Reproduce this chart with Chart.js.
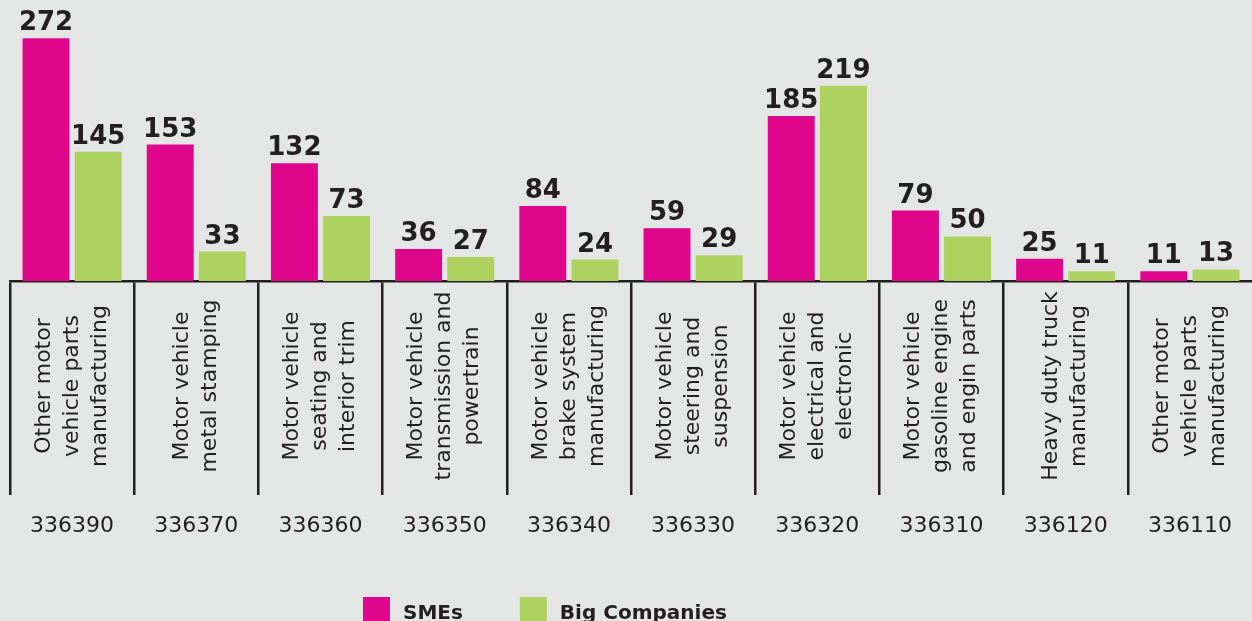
<!DOCTYPE html>
<html>
<head>
<meta charset="utf-8">
<script src="https://cdn.jsdelivr.net/npm/chart.js@4.4.1/dist/chart.umd.min.js"></script>
<style>
  html, body { margin: 0; padding: 0; background: #e4e6e5; overflow: hidden; }
  #wrap { position: relative; width: 1252px; height: 621px; }
</style>
</head>
<body>
<div id="wrap"><canvas id="c"></canvas></div>
<script>
const codes = ['336390','336370','336360','336350','336340','336330','336320','336310','336120','336110'];
const names = [
  ['Other motor','vehicle parts','manufacturing'],
  ['Motor vehicle','metal stamping'],
  ['Motor vehicle','seating and','interior trim'],
  ['Motor vehicle','transmission and','powertrain'],
  ['Motor vehicle','brake system','manufacturing'],
  ['Motor vehicle','steering and','suspension'],
  ['Motor vehicle','electrical and','electronic'],
  ['Motor vehicle','gasoline engine','and engin parts'],
  ['Heavy duty truck','manufacturing'],
  ['Other motor','vehicle parts','manufacturing']
];
const smes = [272, 153, 132, 36, 84, 59, 185, 79, 25, 11];
const big  = [145, 33, 73, 27, 24, 29, 219, 50, 11, 13];
const seriesNames = ['SMEs', 'Big Companies'];
const seriesColors = ['#e0068b', '#aed25f'];

const TEXT = '#231f20';
const FONT = '"DejaVu Sans", sans-serif';

const bgPlugin = {
  id: 'bg',
  beforeDraw(chart) {
    const ctx = chart.ctx;
    ctx.save();
    ctx.fillStyle = '#e4e6e5';
    ctx.fillRect(0, 0, chart.width, chart.height);
    ctx.restore();
  }
};

const valueLabels = {
  id: 'valueLabels',
  afterDatasetsDraw(chart) {
    const ctx = chart.ctx;
    ctx.save();
    ctx.font = 'bold 26px ' + FONT;
    ctx.fillStyle = TEXT;
    ctx.textAlign = 'center';
    ctx.textBaseline = 'alphabetic';
    chart.data.datasets.forEach((ds, di) => {
      chart.getDatasetMeta(di).data.forEach((bar, i) => {
        ctx.fillText(String(ds.data[i]), bar.x, bar.y - 8);
      });
    });
    ctx.restore();
  }
};

const nameLabels = {
  id: 'nameLabels',
  afterDraw(chart) {
    const ctx = chart.ctx;
    const xs = chart.scales.x;
    const cy = xs.top + 105;
    const lh = 28;
    ctx.save();
    ctx.font = '22px ' + FONT;
    ctx.fillStyle = TEXT;
    ctx.textAlign = 'center';
    ctx.textBaseline = 'middle';
    names.forEach((lines, i) => {
      const x = xs.getPixelForValue(i);
      ctx.save();
      ctx.translate(x, cy);
      ctx.rotate(-Math.PI / 2);
      const n = lines.length;
      lines.forEach((t, k) => {
        ctx.fillText(t, 0, (k - (n - 1) / 2) * lh);
      });
      ctx.restore();
    });
    ctx.restore();
  }
};

const legendPlugin = {
  id: 'customLegend',
  afterDraw(chart) {
    const ctx = chart.ctx;
    ctx.save();
    ctx.font = 'bold 20px ' + FONT;
    ctx.textBaseline = 'alphabetic';
    ctx.textAlign = 'left';
    let x = 363;
    const boxTop = 597, box = 27;
    chart.data.datasets.forEach((ds) => {
      ctx.fillStyle = ds.backgroundColor;
      ctx.fillRect(x, boxTop, box, box);
      x += box + 13;
      ctx.fillStyle = TEXT;
      ctx.fillText(ds.label, x, 619);
      x += ctx.measureText(ds.label).width + 57;
    });
    ctx.restore();
  }
};

new Chart(document.getElementById('c'), {
  type: 'bar',
  data: {
    labels: codes,
    datasets: [
      { label: seriesNames[0], data: smes, backgroundColor: seriesColors[0], borderWidth: 0 },
      { label: seriesNames[1], data: big, backgroundColor: seriesColors[1], borderWidth: 0 }
    ]
  },
  options: {
    responsive: true,
    maintainAspectRatio: false,
    animation: false,
    devicePixelRatio: 1,
    layout: { padding: { top: 0, left: 10, right: 0, bottom: 0 } },
    datasets: { bar: { categoryPercentage: 0.84, barPercentage: 0.9 } },
    plugins: { legend: { display: false }, tooltip: { enabled: false } },
    scales: {
      x: {
        offset: true,
        afterFit(scale) { scale.height = 340; },
        grid: {
          offset: true,
          drawOnChartArea: false,
          drawTicks: true,
          tickLength: 214,
          lineWidth: 2.5,
          color: (ctx) => (ctx.type === 'tick' && ctx.index < codes.length) ? TEXT : 'rgba(0,0,0,0)'
        },
        border: { display: true, color: TEXT, width: 2.5 },
        ticks: {
          padding: 18,
          color: TEXT,
          font: { family: FONT, size: 22 },
          maxRotation: 0,
          autoSkip: false
        }
      },
      y: {
        display: false,
        min: 0,
        max: 315
      }
    }
  },
  plugins: [bgPlugin, valueLabels, nameLabels, legendPlugin]
});
</script>
</body>
</html>
